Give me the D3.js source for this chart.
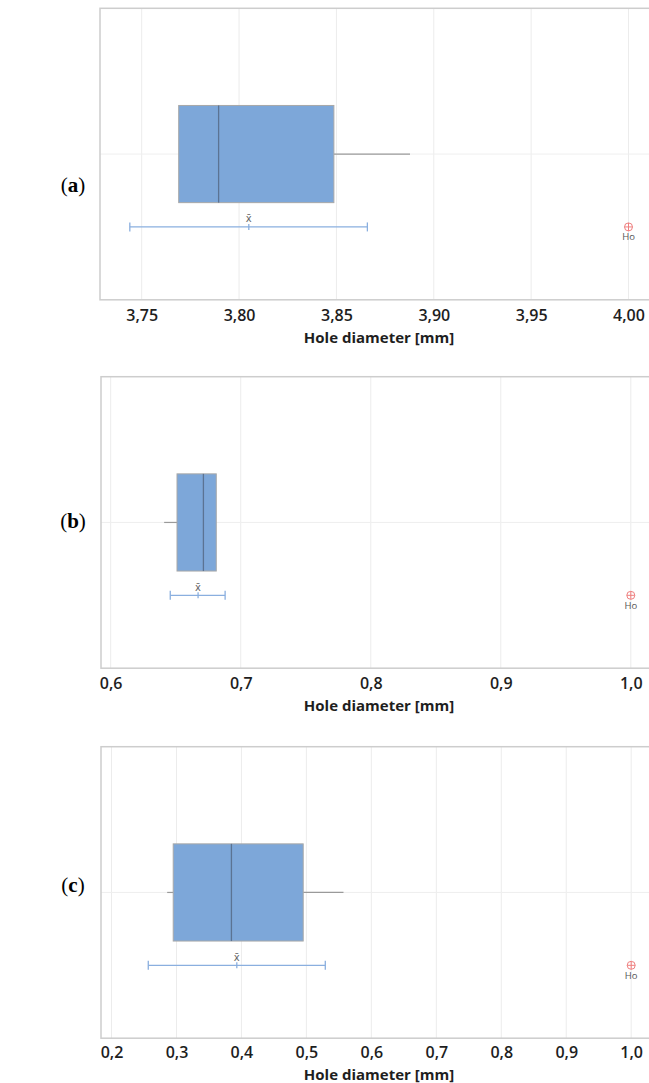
<!DOCTYPE html>
<html>
<head>
<meta charset="utf-8">
<script src="https://cdn.jsdelivr.net/npm/d3@7"></script>
<style>
  html, body { margin: 0; padding: 0; background: #fff; }
  svg { display: block; }
</style>
</head>
<body>
<svg id="chart" width="649" height="1083"></svg>
<script>
// ---- data ----
const panelLetters = ["a", "b", "c"];
const q1Values = [3.769, 0.651, 0.295];
const medianValues = [3.7895, 0.6713, 0.3846];
const q3Values = [3.8487, 0.6812, 0.4951];
const whiskerLowValues = [3.769, 0.6411, 0.2857];
const whiskerHighValues = [3.8878, 0.6812, 0.5571];
const meanValues = [3.805, 0.6672, 0.3929];
const ciLowValues = [3.7439, 0.6458, 0.2566];
const ciHighValues = [3.8659, 0.688, 0.5291];
const h0Values = [4.00, 1.0, 1.0];
const tickValuesA = [3.75, 3.80, 3.85, 3.90, 3.95, 4.00];
const tickValuesB = [0.6, 0.7, 0.8, 0.9, 1.0];
const tickValuesC = [0.2, 0.3, 0.4, 0.5, 0.6, 0.7, 0.8, 0.9, 1.0];
const tickDecimals = [2, 1, 1];
const axisTitle = "Hole diameter [mm]";
const meanLabel = "x\u0304";
const h0Label = "Ho";

// ---- layout ----
const tickSets = [tickValuesA, tickValuesB, tickValuesC];
const scaleAnchors = [
  { d: [3.75, 4.00], r: [141.7, 628.5] },
  { d: [0.6, 1.0], r: [110.7, 630.8] },
  { d: [0.2, 1.0], r: [111.5, 631.2] }
];
const frameLeft = [100, 101, 101];
const frameRight = 652;
const frameTop = [8.3, 376.7, 746.7];
const frameH = 291.5;
const letterY = [185, 521, 885];
const tickOffset = [21, 21, 19.5];
const titleOffset = [43.5, 43, 41.3];

const svg = d3.select("#chart");
const fontSans = "'Open Sans', 'Noto Sans', sans-serif";

panelLetters.forEach((letter, i) => {
  const x = d3.scaleLinear().domain(scaleAnchors[i].d).range(scaleAnchors[i].r);
  const top = frameTop[i];
  const bottom = top + frameH;
  const y = d3.scaleLinear().domain([0, 1]).range([top, bottom]);
  const g = svg.append("g");

  // vertical gridlines
  g.selectAll("line.grid").data(tickSets[i]).join("line")
    .attr("x1", d => x(d)).attr("x2", d => x(d))
    .attr("y1", top).attr("y2", bottom)
    .attr("stroke", "#ececec").attr("stroke-width", 1);
  // horizontal center gridline
  g.append("line")
    .attr("x1", frameLeft[i]).attr("x2", frameRight)
    .attr("y1", y(0.5)).attr("y2", y(0.5))
    .attr("stroke", "#efefef").attr("stroke-width", 1);

  // frame
  g.append("rect")
    .attr("x", frameLeft[i]).attr("y", top)
    .attr("width", frameRight - frameLeft[i]).attr("height", frameH)
    .attr("fill", "none").attr("stroke", "#cdcdcd").attr("stroke-width", 1.5);

  // axis
  const axis = d3.axisBottom(x).tickValues(tickSets[i])
    .tickSize(0).tickPadding(0)
    .tickFormat(d => d.toFixed(tickDecimals[i]).replace(".", ","));
  const ax = g.append("g").attr("transform", `translate(0,${bottom})`).call(axis);
  ax.select(".domain").remove();
  ax.selectAll("text")
    .attr("y", tickOffset[i]).attr("dy", null)
    .attr("font-family", fontSans).attr("font-size", 16).attr("font-weight", 600)
    .attr("fill", "#1e1e1e");

  // axis title
  g.append("text")
    .attr("x", 379).attr("y", bottom + titleOffset[i])
    .attr("text-anchor", "middle")
    .attr("font-family", fontSans).attr("font-size", 15).attr("font-weight", 700)
    .attr("fill", "#1e1e1e")
    .text(axisTitle);

  // whiskers
  const cy = y(0.5);
  g.append("line")
    .attr("x1", x(whiskerLowValues[i])).attr("x2", x(q1Values[i]))
    .attr("y1", cy).attr("y2", cy)
    .attr("stroke", "#9a9a9a").attr("stroke-width", 1.2);
  g.append("line")
    .attr("x1", x(q3Values[i])).attr("x2", x(whiskerHighValues[i]))
    .attr("y1", cy).attr("y2", cy)
    .attr("stroke", "#9a9a9a").attr("stroke-width", 1.2);

  // box
  const boxTop = y(0.5 - 1 / 6), boxBot = y(0.5 + 1 / 6);
  g.append("rect")
    .attr("x", x(q1Values[i])).attr("y", boxTop)
    .attr("width", x(q3Values[i]) - x(q1Values[i])).attr("height", boxBot - boxTop)
    .attr("fill", "#7da7d9").attr("stroke", "#a8a8a8").attr("stroke-width", 1);
  g.append("line")
    .attr("x1", x(medianValues[i])).attr("x2", x(medianValues[i]))
    .attr("y1", boxTop).attr("y2", boxBot)
    .attr("stroke", "#5b7393").attr("stroke-width", 1.3);

  // mean CI
  const ciy = y(0.75);
  g.append("line")
    .attr("x1", x(ciLowValues[i])).attr("x2", x(ciHighValues[i]))
    .attr("y1", ciy).attr("y2", ciy)
    .attr("stroke", "#8aafdf").attr("stroke-width", 1.3);
  [ciLowValues[i], ciHighValues[i]].forEach(v => {
    g.append("line")
      .attr("x1", x(v)).attr("x2", x(v))
      .attr("y1", ciy - 4.5).attr("y2", ciy + 4.5)
      .attr("stroke", "#8aafdf").attr("stroke-width", 1.3);
  });
  g.append("line")
    .attr("x1", x(meanValues[i])).attr("x2", x(meanValues[i]))
    .attr("y1", ciy - 3).attr("y2", ciy + 3)
    .attr("stroke", "#8aafdf").attr("stroke-width", 1.3);
  g.append("text")
    .attr("x", x(meanValues[i])).attr("y", ciy - 4.5)
    .attr("text-anchor", "middle")
    .attr("font-family", "'DejaVu Sans', sans-serif").attr("font-size", 10)
    .attr("fill", "#666")
    .text(meanLabel);

  // H0 marker
  const hx = x(h0Values[i]);
  g.append("circle")
    .attr("cx", hx).attr("cy", ciy).attr("r", 4)
    .attr("fill", "none").attr("stroke", "#ef7f7f").attr("stroke-width", 1);
  g.append("line")
    .attr("x1", hx - 4).attr("x2", hx + 4).attr("y1", ciy).attr("y2", ciy)
    .attr("stroke", "#ef7f7f").attr("stroke-width", 1);
  g.append("line")
    .attr("x1", hx).attr("x2", hx).attr("y1", ciy - 4).attr("y2", ciy + 4)
    .attr("stroke", "#ef7f7f").attr("stroke-width", 1);
  g.append("text")
    .attr("x", hx).attr("y", ciy + 13.5)
    .attr("text-anchor", "middle")
    .attr("font-family", fontSans).attr("font-size", 9.5)
    .attr("fill", "#555")
    .text(h0Label);

  // panel letter
  const t = svg.append("text")
    .attr("x", 73).attr("y", letterY[i]).attr("dy", "0.35em")
    .attr("text-anchor", "middle")
    .attr("font-family", "'Liberation Serif', 'Times New Roman', serif")
    .attr("font-size", 21).attr("fill", "#000");
  t.append("tspan").text("(");
  t.append("tspan").attr("font-weight", "bold").text(letter);
  t.append("tspan").text(")");
});
</script>
</body>
</html>
